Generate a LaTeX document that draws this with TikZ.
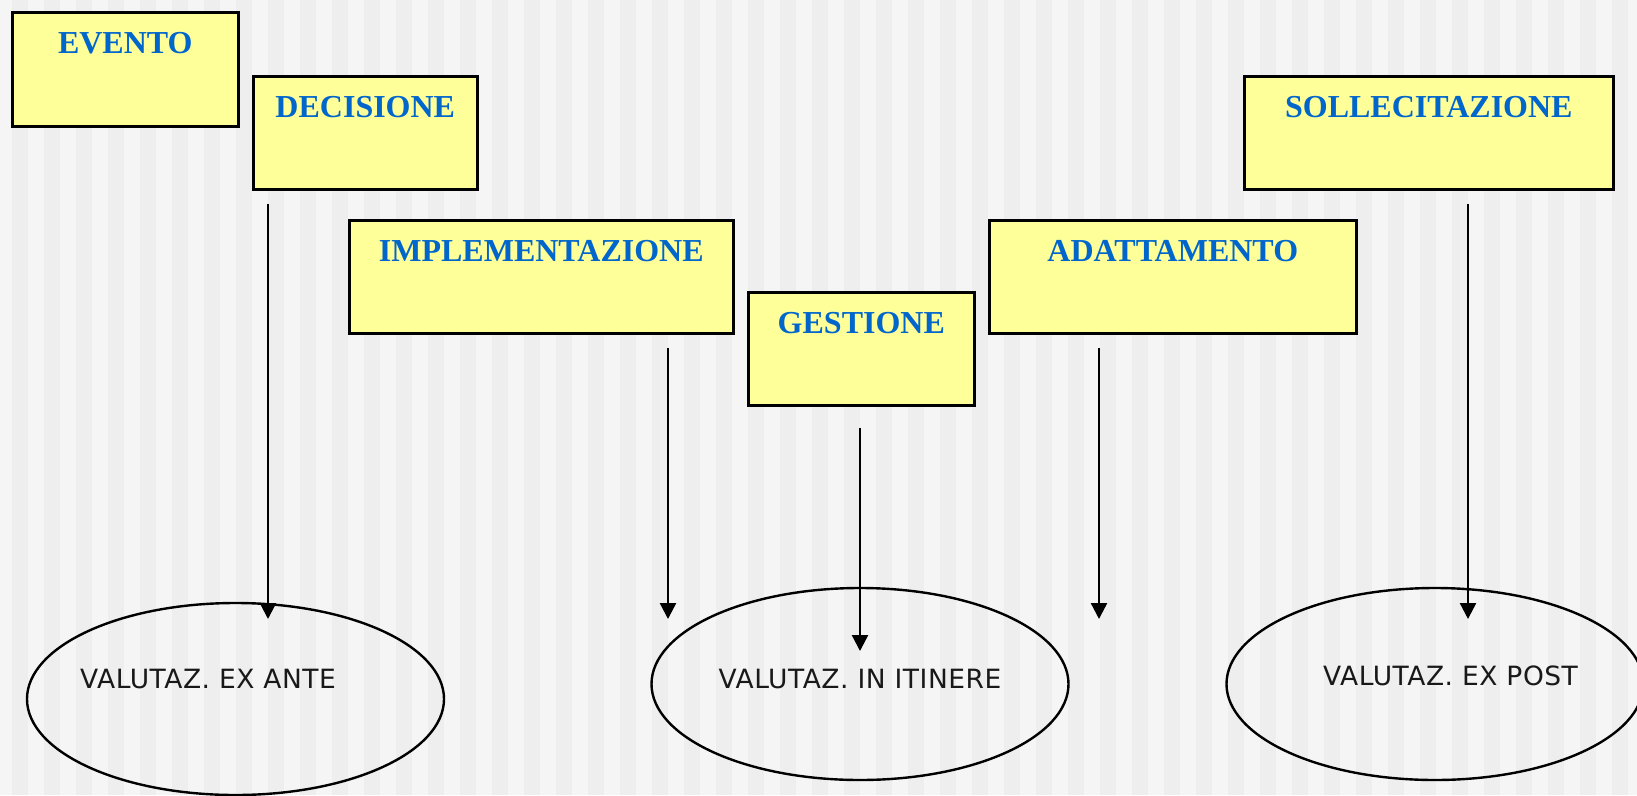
\documentclass[tikz,border=0pt]{standalone}
\usepackage{fontspec}
\setmainfont{Liberation Serif}
\newfontfamily\valfont[LetterSpace=2]{DejaVu Sans}
\usetikzlibrary{arrows.meta,shapes.geometric}
\definecolor{bglight}{HTML}{F5F5F5}
\definecolor{bgdark}{HTML}{EEEEEE}
\definecolor{boxfill}{HTML}{FFFF99}
\definecolor{titleblue}{HTML}{0066CC}
\tikzset{
  phase/.style={draw=black, line width=2.6pt, fill=boxfill, rectangle, inner sep=0pt, anchor=north west},
  phasetitle/.style={anchor=base, yshift=-42pt, text=titleblue, font=\fontsize{32}{36}\selectfont\bfseries, inner sep=0pt},
  evalell/.style={draw=black, line width=2.4pt, ellipse, inner sep=0pt, minimum width=417pt, minimum height=192pt},
  evaltext/.style={font=\valfont\fontsize{26.5}{30}\selectfont, text=black!90, inner sep=0pt, anchor=base west},
  arr/.style={line width=2.4pt, -{Triangle[length=16pt,width=16pt]}}
}
\begin{document}
\begin{tikzpicture}[x=1pt,y=-1pt]
\useasboundingbox (0,0) rectangle (1637,795);
\fill[bglight] (0,0) rectangle (1637,795);
\foreach \k in {0,...,51}{
  \fill[bgdark] ({12+32*\k},0) rectangle ({28+32*\k},795);
}
% phase boxes
\node[phase, minimum width=226pt, minimum height=114pt,
  label={[phasetitle]north:EVENTO}] (ev) at (11,11) {};
\node[phase, minimum width=224pt, minimum height=113pt,
  label={[phasetitle]north:DECISIONE}] (dec) at (252,75) {};
\node[phase, minimum width=384pt, minimum height=113pt,
  label={[phasetitle]north:IMPLEMENTAZIONE}] (imp) at (348,219) {};
\node[phase, minimum width=226pt, minimum height=113pt,
  label={[phasetitle]north:GESTIONE}] (ges) at (747,291) {};
\node[phase, minimum width=367pt, minimum height=113pt,
  label={[phasetitle]north:ADATTAMENTO}] (ada) at (988,219) {};
\node[phase, minimum width=369pt, minimum height=113pt,
  label={[phasetitle]north:SOLLECITAZIONE}] (sol) at (1243,75) {};
% evaluation ellipses
\node[evalell] (e1) at (235.5,699) {};
\node[evalell] (e2) at (860,684) {};
\node[evalell] (e3) at (1435,684) {};
\node[evaltext] (t1) at (80,688) {VALUTAZ. EX ANTE};
\node[evaltext, anchor=base] (t2) at (860,688) {VALUTAZ. IN ITINERE};
\node[evaltext] (t3) at (1323,685) {VALUTAZ. EX POST};
% arrow endpoints
\coordinate (a1s) at (268,204); \coordinate (a1e) at (268,619);
\coordinate (a2s) at (668,348); \coordinate (a2e) at (668,619);
\coordinate (a3s) at (860,428); \coordinate (a3e) at (860,651);
\coordinate (a4s) at (1099,348); \coordinate (a4e) at (1099,619);
\coordinate (a5s) at (1468,204); \coordinate (a5e) at (1468,619);
\draw[arr] (a1s) -- (a1e);
\draw[arr] (a2s) -- (a2e);
\draw[arr] (a3s) -- (a3e);
\draw[arr] (a4s) -- (a4e);
\draw[arr] (a5s) -- (a5e);
\end{tikzpicture}
\end{document}
